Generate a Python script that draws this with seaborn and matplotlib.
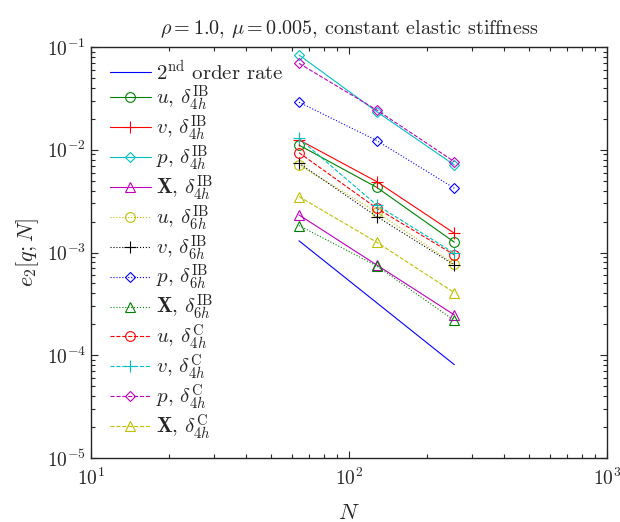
import numpy as np
import pandas as pd
import matplotlib
matplotlib.use("Agg")
import matplotlib.pyplot as plt
import seaborn as sns

# grid sizes
N = [64, 128, 256]

# 2nd order reference line
N_rate = [64, 256]
rate = [1.3e-3, 8.1e-5]

# errors, delta_4h IB
u_ib4 = [1.11e-2, 4.31e-3, 1.26e-3]
v_ib4 = [1.25e-2, 4.90e-3, 1.54e-3]
p_ib4 = [8.36e-2, 2.35e-2, 7.11e-3]
X_ib4 = [2.32e-3, 7.57e-4, 2.47e-4]

# errors, delta_6h IB
u_ib6 = [7.11e-3, 2.47e-3, 7.75e-4]
v_ib6 = [7.40e-3, 2.24e-3, 7.57e-4]
p_ib6 = [2.90e-2, 1.23e-2, 4.22e-3]
X_ib6 = [1.83e-3, 7.41e-4, 2.18e-4]

# errors, delta_4h C
u_c4 = [9.37e-3, 2.70e-3, 9.48e-4]
v_c4 = [1.29e-2, 2.90e-3, 9.84e-4]
p_c4 = [6.93e-2, 2.44e-2, 7.66e-3]
X_c4 = [3.50e-3, 1.26e-3, 4.07e-4]

series = [
    (u_ib4, r"$u$, $\delta_{4h}^{\rm IB}$", (0, 0.5, 0), "-", "o"),
    (v_ib4, r"$v$, $\delta_{4h}^{\rm IB}$", (1, 0, 0), "-", "+"),
    (p_ib4, r"$p$, $\delta_{4h}^{\rm IB}$", (0, 0.75, 0.75), "-", "D"),
    (X_ib4, r"$\mathbf{X}$, $\delta_{4h}^{\rm IB}$", (0.75, 0, 0.75), "-", "^"),
    (u_ib6, r"$u$, $\delta_{6h}^{\rm IB}$", (0.75, 0.75, 0), ":", "o"),
    (v_ib6, r"$v$, $\delta_{6h}^{\rm IB}$", (0, 0, 0), ":", "+"),
    (p_ib6, r"$p$, $\delta_{6h}^{\rm IB}$", (0, 0, 1), ":", "D"),
    (X_ib6, r"$\mathbf{X}$, $\delta_{6h}^{\rm IB}$", (0, 0.5, 0), ":", "^"),
    (u_c4, r"$u$, $\delta_{4h}^{\rm C}$", (1, 0, 0), "--", "o"),
    (v_c4, r"$v$, $\delta_{4h}^{\rm C}$", (0, 0.75, 0.75), "--", "+"),
    (p_c4, r"$p$, $\delta_{4h}^{\rm C}$", (0.75, 0, 0.75), "--", "D"),
    (X_c4, r"$\mathbf{X}$, $\delta_{4h}^{\rm C}$", (0.75, 0.75, 0), "--", "^"),
]

sns.set_style("ticks", {"xtick.direction": "in", "ytick.direction": "in"})
plt.rcParams["font.family"] = ["cmr10", "DejaVu Serif"]
plt.rcParams["mathtext.fontset"] = "cm"
plt.rcParams["axes.formatter.use_mathtext"] = True

fig = plt.figure(figsize=(6.2, 5.22), dpi=100)
ax = fig.add_axes([91 / 620, 1 - 458 / 522, 516 / 620, 411 / 522])

sns.lineplot(x=N_rate, y=rate, ax=ax, color="blue", linewidth=0.8,
             label=r"2$^{\rm nd}$ order rate")

for vals, lab, col, ls, mk in series:
    ms = 5.5 if mk == "D" else (8 if mk == "+" else 7)
    sns.lineplot(x=N, y=vals, ax=ax, color=col, linestyle=ls, linewidth=0.8,
                 marker=mk, markersize=ms, markerfacecolor="none",
                 markeredgecolor=col, markeredgewidth=0.8, label=lab)

ax.set(xscale="log", yscale="log", xlim=(10, 1000), ylim=(1e-5, 1e-1))
ax.tick_params(which="both", direction="in", top=True, right=True,
               labelsize=14, width=0.8)
ax.tick_params(which="major", length=5)
ax.tick_params(which="minor", length=3)
ax.tick_params(axis="x", which="major", pad=7)
for s in ax.spines.values():
    s.set_linewidth(1.0)

ax.set_xlabel(r"$N$", fontsize=16, labelpad=10)
ax.set_ylabel(r"$e_2[q;N]$", fontsize=16, labelpad=4)
ax.set_title(r"$\rho = 1.0$, $\mu = 0.005$, constant elastic stiffness",
             fontsize=14.5, pad=9)

ax.legend(loc="upper left", frameon=False, fontsize=15, handlelength=1.95,
          handletextpad=0.25, labelspacing=0.02, borderaxespad=0,
          borderpad=0, bbox_to_anchor=(0.037, 0.972))

fig.savefig("out.png", dpi=100)
